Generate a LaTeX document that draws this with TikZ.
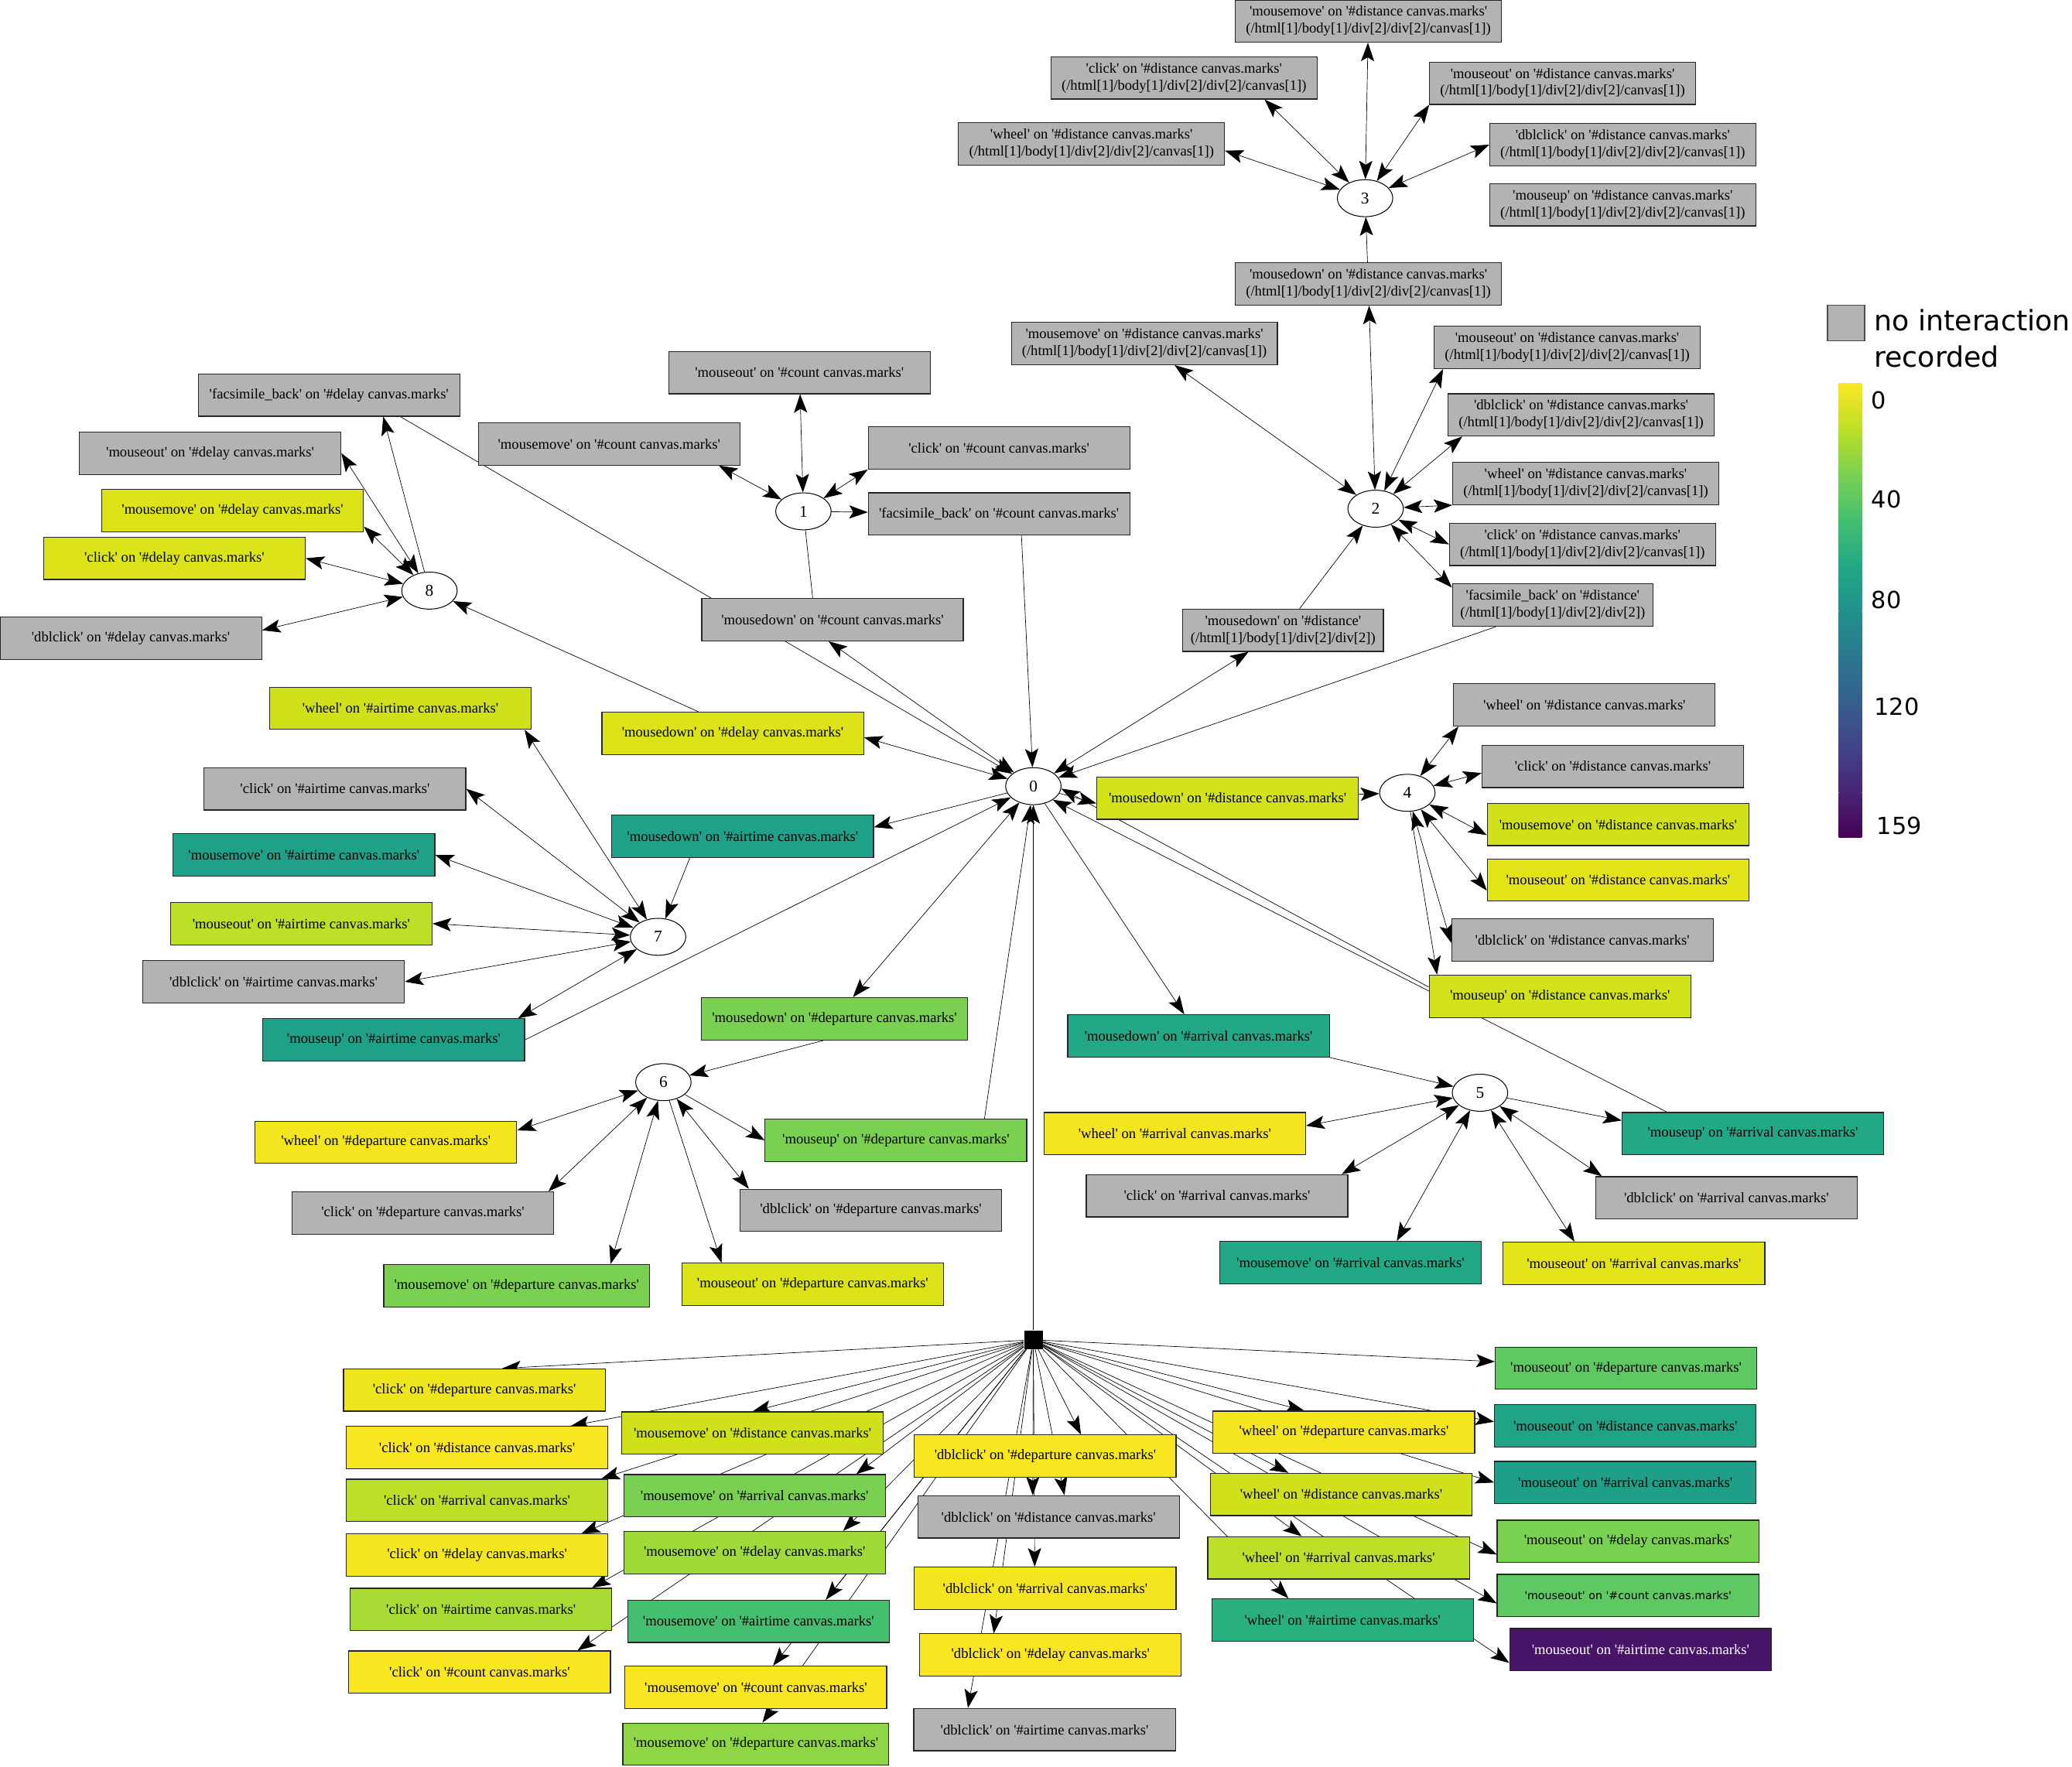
\documentclass[tikz,border=0pt]{standalone}
\usepackage{fontspec}
\newfontfamily\gvfont{Liberation Serif}
\newfontfamily\gvsans{DejaVu Sans}
\usetikzlibrary{arrows.meta,shapes.geometric,backgrounds}

\definecolor{gvgray}{HTML}{B3B3B3}
\definecolor{cYa}{HTML}{F8E621}
\definecolor{cYb}{HTML}{F4E61E}
\definecolor{cYc}{HTML}{EFE51C}
\definecolor{cYd}{HTML}{E2E418}
\definecolor{cYe}{HTML}{DCE319}
\definecolor{cYf}{HTML}{D2E21B}
\definecolor{cYg}{HTML}{D0E11C}
\definecolor{cYh}{HTML}{BCDF27}
\definecolor{cGa}{HTML}{A8DB34}
\definecolor{cGb}{HTML}{A0DA39}
\definecolor{cGc}{HTML}{8ED645}
\definecolor{cGd}{HTML}{7AD151}
\definecolor{cGe}{HTML}{5EC962}
\definecolor{cGf}{HTML}{44BF70}
\definecolor{cTa}{HTML}{2AB07F}
\definecolor{cTb}{HTML}{22A884}
\definecolor{cTc}{HTML}{20A486}
\definecolor{cTd}{HTML}{1FA088}
\definecolor{cTe}{HTML}{1F9E89}
\definecolor{cPa}{HTML}{481467}
% viridis stops for the colour bar
\definecolor{vir0}{HTML}{440154}
\definecolor{vir1}{HTML}{482475}
\definecolor{vir2}{HTML}{414487}
\definecolor{vir3}{HTML}{355F8D}
\definecolor{vir4}{HTML}{2A788E}
\definecolor{vir5}{HTML}{21918C}
\definecolor{vir6}{HTML}{22A884}
\definecolor{vir7}{HTML}{44BF70}
\definecolor{vir8}{HTML}{7AD151}
\definecolor{vir9}{HTML}{BDDF26}
\definecolor{vir10}{HTML}{FDE725}

\newcommand{\canvaspath}{(/html[1]/body[1]/div[2]/div[2]/canvas[1])}

\tikzstyle{event} = [rectangle, draw=black!85, line width=0.7pt, fill=gvgray,
    minimum width=198pt, minimum height=32pt, inner xsep=8pt, inner ysep=2pt,
    align=center, font=\gvfont\fontsize{10.9}{12.8}\selectfont]
\tikzstyle{shortevent} = [event, minimum width=0pt, inner xsep=6pt]
\tikzstyle{statenode} = [ellipse, draw, fill=white, line width=0.6pt,
    minimum width=42pt, minimum height=28pt, inner sep=0pt,
    font=\gvfont\fontsize{12.5}{14}\selectfont]
\tikzstyle{startnode} = [rectangle, fill=black, minimum size=14pt, inner sep=0pt]
\tikzstyle{legendtext} = [inner sep=0pt, align=left,
    font=\gvsans\fontsize{21.3}{27.5}\selectfont]
\tikzstyle{ticklabel} = [inner sep=0pt, anchor=west,
    font=\gvsans\fontsize{17.8}{20}\selectfont]

\begin{document}
\begin{tikzpicture}[x=1pt,y=-1pt,->,>={Stealth[length=14pt,width=10pt,inset=3pt]},
                    line width=0.6pt]
  \useasboundingbox (0,0) rectangle (1568,1337);

  % states
  \node[statenode] (n0) at (782,595)  {0};
  \node[statenode] (n1) at (608,387)  {1};
  \node[statenode] (n2) at (1041,385) {2};
  \node[statenode] (n3) at (1033,150) {3};
  \node[statenode] (n4) at (1065,600) {4};
  \node[statenode] (n5) at (1120,827) {5};
  \node[statenode] (n6) at (502,819)  {6};
  \node[statenode] (n7) at (498,709)  {7};
  \node[statenode] (n8) at (325,447)  {8};
  \node[startnode] (start) at (782,1014) {};

  % around 3
  \node[event] (d3mm)    at (1035.5,16)  {'mousemove' on '\#distance canvas.marks'\\\canvaspath};
  \node[event] (d3click) at (896,59)     {'click' on '\#distance canvas.marks'\\\canvaspath};
  \node[event] (d3wheel) at (826,109)    {'wheel' on '\#distance canvas.marks'\\\canvaspath};
  \node[event] (d3mout)  at (1182.5,63)  {'mouseout' on '\#distance canvas.marks'\\\canvaspath};
  \node[event] (d3dbl)   at (1228,109.5) {'dblclick' on '\#distance canvas.marks'\\\canvaspath};
  \node[event] (d3mup)   at (1228,155)   {'mouseup' on '\#distance canvas.marks'\\\canvaspath};
  \node[event] (d2mdown) at (1035.5,215) {'mousedown' on '\#distance canvas.marks'\\\canvaspath};

  % around 2
  \node[event] (d2mm)    at (866,260)    {'mousemove' on '\#distance canvas.marks'\\\canvaspath};
  \node[event] (d2mout)  at (1186,263)   {'mouseout' on '\#distance canvas.marks'\\\canvaspath};
  \node[event] (d2dbl)   at (1196.5,314) {'dblclick' on '\#distance canvas.marks'\\\canvaspath};
  \node[event] (d2wheel) at (1200,366)   {'wheel' on '\#distance canvas.marks'\\\canvaspath};
  \node[event] (d2click) at (1197.5,412) {'click' on '\#distance canvas.marks'\\\canvaspath};
  \node[shortevent] (d2fb)    at (1175,458) {'facsimile\_back' on '\#distance'\\(/html[1]/body[1]/div[2]/div[2])};
  \node[shortevent] (d0mdist) at (971,477)  {'mousedown' on '\#distance'\\(/html[1]/body[1]/div[2]/div[2])};

  % around 1
  \node[event] (c1mout)  at (605,282) {'mouseout' on '\#count canvas.marks'};
  \node[event] (c1mm)    at (461,336) {'mousemove' on '\#count canvas.marks'};
  \node[event] (c1click) at (756,339) {'click' on '\#count canvas.marks'};
  \node[event] (c1fb)    at (756,389) {'facsimile\_back' on '\#count canvas.marks'};
  \node[event] (c0mdown) at (630,469) {'mousedown' on '\#count canvas.marks'};

  % around 8
  \node[event] (l8fb)    at (249,299)   {'facsimile\_back' on '\#delay canvas.marks'};
  \node[event] (l8mout)  at (159,343)   {'mouseout' on '\#delay canvas.marks'};
  \node[event, fill=cYe] (l8mm)    at (176,386.5) {'mousemove' on '\#delay canvas.marks'};
  \node[event, fill=cYe] (l8click) at (132,422.5) {'click' on '\#delay canvas.marks'};
  \node[event] (l8dbl)   at (99,483)    {'dblclick' on '\#delay canvas.marks'};
  \node[event, fill=cYe] (l0mdown) at (554.5,555) {'mousedown' on '\#delay canvas.marks'};

  % around 7
  \node[event, fill=cYg] (a7wheel) at (303,536)   {'wheel' on '\#airtime canvas.marks'};
  \node[event]           (a7click) at (253.5,597) {'click' on '\#airtime canvas.marks'};
  \node[event, fill=cTd] (a7mm)    at (230,647)   {'mousemove' on '\#airtime canvas.marks'};
  \node[event, fill=cYh] (a7mout)  at (228,699)   {'mouseout' on '\#airtime canvas.marks'};
  \node[event]           (a7dbl)   at (207,743)   {'dblclick' on '\#airtime canvas.marks'};
  \node[event, fill=cTd] (a7mup)   at (298,787)   {'mouseup' on '\#airtime canvas.marks'};
  \node[event, fill=cTd] (a0mdown) at (562,633)   {'mousedown' on '\#airtime canvas.marks'};

  % around 6
  \node[event, fill=cGd] (p0mdown) at (631.5,771) {'mousedown' on '\#departure canvas.marks'};
  \node[event, fill=cGd] (p6mup)   at (678,863)   {'mouseup' on '\#departure canvas.marks'};
  \node[event, fill=cYb] (p6wheel) at (292,864.5) {'wheel' on '\#departure canvas.marks'};
  \node[event]           (p6click) at (320,918)   {'click' on '\#departure canvas.marks'};
  \node[event]           (p6dbl)   at (659,916)   {'dblclick' on '\#departure canvas.marks'};
  \node[event, fill=cGd] (p6mm)    at (391,973)   {'mousemove' on '\#departure canvas.marks'};
  \node[event, fill=cYe] (p6mout)  at (615,972)   {'mouseout' on '\#departure canvas.marks'};

  % around 4
  \node[event, fill=cYf] (d0mdown) at (929,604)    {'mousedown' on '\#distance canvas.marks'};
  \node[event]           (d4wheel) at (1199,533.5) {'wheel' on '\#distance canvas.marks'};
  \node[event]           (d4click) at (1220.5,580) {'click' on '\#distance canvas.marks'};
  \node[event, fill=cYg] (d4mm)    at (1224.5,624) {'mousemove' on '\#distance canvas.marks'};
  \node[event, fill=cYd] (d4mout)  at (1224.5,666) {'mouseout' on '\#distance canvas.marks'};
  \node[event]           (d4dbl)   at (1197.5,711.5) {'dblclick' on '\#distance canvas.marks'};
  \node[event, fill=cYf] (d4mup)   at (1180.5,754) {'mouseup' on '\#distance canvas.marks'};

  % around 5
  \node[event, fill=cTb] (r0mdown) at (907,784)    {'mousedown' on '\#arrival canvas.marks'};
  \node[event, fill=cYb] (r5wheel) at (889,858)    {'wheel' on '\#arrival canvas.marks'};
  \node[event]           (r5click) at (921,905)    {'click' on '\#arrival canvas.marks'};
  \node[event, fill=cTb] (r5mup)   at (1326.5,858) {'mouseup' on '\#arrival canvas.marks'};
  \node[event]           (r5dbl)   at (1306.5,906.5) {'dblclick' on '\#arrival canvas.marks'};
  \node[event, fill=cTb] (r5mm)    at (1022,955.5) {'mousemove' on '\#arrival canvas.marks'};
  \node[event, fill=cYd] (r5mout)  at (1236.5,956) {'mouseout' on '\#arrival canvas.marks'};

  % first events, from the start
  \node[event, fill=cYc] (sclickdep)  at (359,1052)   {'click' on '\#departure canvas.marks'};
  \node[event, fill=cYa] (sclickdist) at (361,1095.5) {'click' on '\#distance canvas.marks'};
  \node[event, fill=cYh] (sclickarr)  at (361,1135.5) {'click' on '\#arrival canvas.marks'};
  \node[event, fill=cYb] (sclickdel)  at (361,1177)   {'click' on '\#delay canvas.marks'};
  \node[event, fill=cGa] (sclickair)  at (364,1218)   {'click' on '\#airtime canvas.marks'};
  \node[event, fill=cYa] (sclickcnt)  at (363,1265.5) {'click' on '\#count canvas.marks'};

  \node[event, fill=cYg] (smmdist) at (569.5,1084.5) {'mousemove' on '\#distance canvas.marks'};
  \node[event, fill=cGd] (smmarr)  at (571,1132)     {'mousemove' on '\#arrival canvas.marks'};
  \node[event, fill=cGb] (smmdel)  at (571,1175)     {'mousemove' on '\#delay canvas.marks'};
  \node[event, fill=cGf] (smmair)  at (574,1227)     {'mousemove' on '\#airtime canvas.marks'};
  \node[event, fill=cYa] (smmcnt)  at (572,1277)     {'mousemove' on '\#count canvas.marks'};
  \node[event, fill=cGc] (smmdep)  at (572,1320)     {'mousemove' on '\#departure canvas.marks'};

  \node[event, fill=cYa] (sdbldep)  at (791,1102)   {'dblclick' on '\#departure canvas.marks'};
  \node[event]           (sdbldist) at (793.5,1148) {'dblclick' on '\#distance canvas.marks'};
  \node[event, fill=cYb] (sdblarr)  at (791,1202)   {'dblclick' on '\#arrival canvas.marks'};
  \node[event, fill=cYa] (sdbldel)  at (795,1252.5) {'dblclick' on '\#delay canvas.marks'};
  \node[event]           (sdblair)  at (790.5,1309) {'dblclick' on '\#airtime canvas.marks'};

  \node[event, fill=cYb] (swhdep)  at (1017,1084) {'wheel' on '\#departure canvas.marks'};
  \node[event, fill=cYg] (swhdist) at (1015,1131) {'wheel' on '\#distance canvas.marks'};
  \node[event, fill=cYh] (swharr)  at (1013,1179) {'wheel' on '\#arrival canvas.marks'};
  \node[event, fill=cTa] (swhair)  at (1016,1226) {'wheel' on '\#airtime canvas.marks'};

  \node[event, fill=cGe] (smodep)  at (1230.5,1035.5) {'mouseout' on '\#departure canvas.marks'};
  \node[event, fill=cTc] (smodist) at (1230,1079)     {'mouseout' on '\#distance canvas.marks'};
  \node[event, fill=cTe] (smoarr)  at (1230,1122)     {'mouseout' on '\#arrival canvas.marks'};
  \node[event, fill=cGd] (smodel)  at (1232,1166.5)   {'mouseout' on '\#delay canvas.marks'};
  \node[event, fill=cGe, font=\gvsans\fontsize{8.3}{10}\selectfont]
                         (smocnt)  at (1232,1207.5)   {'mouseout' on '\#count canvas.marks'};
  \node[event, fill=cPa, text=white] (smoair) at (1241.5,1248.5) {'mouseout' on '\#airtime canvas.marks'};

  % legend
  \draw[-, fill=gvgray, draw=black!70, line width=0.8pt] (1383,231) rectangle (1411,258);
  \node[legendtext, anchor=base west] (legnote) at (1418,278) {no interaction\\recorded};
  \shade[-, top color=vir10, bottom color=vir9] (1391.5,290)   rectangle (1409,324.9);
  \shade[-, top color=vir9,  bottom color=vir8] (1391.5,324.4) rectangle (1409,359.3);
  \shade[-, top color=vir8,  bottom color=vir7] (1391.5,358.8) rectangle (1409,393.7);
  \shade[-, top color=vir7,  bottom color=vir6] (1391.5,393.2) rectangle (1409,428.1);
  \shade[-, top color=vir6,  bottom color=vir5] (1391.5,427.6) rectangle (1409,462.5);
  \shade[-, top color=vir5,  bottom color=vir4] (1391.5,462)   rectangle (1409,496.9);
  \shade[-, top color=vir4,  bottom color=vir3] (1391.5,496.4) rectangle (1409,531.3);
  \shade[-, top color=vir3,  bottom color=vir2] (1391.5,530.8) rectangle (1409,565.7);
  \shade[-, top color=vir2,  bottom color=vir1] (1391.5,565.2) rectangle (1409,600.1);
  \shade[-, top color=vir1,  bottom color=vir0] (1391.5,599.6) rectangle (1409,634);
  \node[ticklabel] (tick0)   at (1416,302.7) {0};
  \node[ticklabel] (tick40)  at (1416,378)   {40};
  \node[ticklabel] (tick80)  at (1416,454)   {80};
  \node[ticklabel] (tick120) at (1418,535)   {120};
  \node[ticklabel] (tick159) at (1420,624.7) {159};

  \begin{scope}[on background layer]
  \fill[-, white] (0,0) rectangle (1568,1337);
  % state 3
  \path (n3) edge[<->] (d3mm)
             edge[<->] ([xshift=61pt]d3click.south)
             edge[<->] ([yshift=-5pt]d3wheel.east)
             edge[<->] (d3mout.south west)
             edge[<->] (d3dbl.west);
  \path (d2mdown) edge (n3);
  % state 2
  \path (n2) edge[<->] (d2mdown)
             edge[<->] (d2mm)
             edge[<->] ([xshift=7pt]d2mout.south west)
             edge[<->] ([xshift=11pt]d2dbl.south west)
             edge[<->] (d2wheel.south west)
             edge[<->] (d2click.west)
             edge[<->] ([yshift=-3pt]d2fb.north west);
  \path (d0mdist) edge (n2);
  % state 8
  \path (n8) edge ([xshift=41pt]l8fb.south)
             edge[<->] (l8mout.east)
             edge[<->] ([yshift=-12pt]l8mm.east)
             edge[<->] (l8click.east)
             edge[<->] ([yshift=6pt]l8dbl.east);
  \path ([xshift=-26pt]l0mdown.north) edge (n8);
  % state 1
  \path (n1) edge[<->] (c1mout)
             edge[<->] ([xshift=83pt]c1mm.south)
             edge[<->] (c1click.south west)
             edge (c1fb)
             edge[-] ([xshift=-15pt]c0mdown.north);
  % state 7
  \path (n7) edge[<->] ([xshift=94pt]a7wheel.south)
             edge[<->] (a7click.east)
             edge[<->] (a7mm.east)
             edge[<->] (a7mout.east)
             edge[<->] (a7dbl.east)
             edge[<->] ([xshift=94pt]a7mup.north);
  \path ([xshift=-40pt]a0mdown.south) edge (n7);
  % state 6
  \path ([xshift=-8pt]p0mdown.south) edge (n6);
  \path (n6) edge (p6mup.west)
             edge[<->] ([yshift=9pt]p6wheel.east)
             edge[<->] ([xshift=95pt]p6click.north)
             edge[<->] ([xshift=71pt]p6mm.north)
             edge ([xshift=-69pt]p6mout.north)
             edge[<->] ([xshift=7pt]p6dbl.north west);
  % state 4
  \path (d0mdown) edge (n4);
  \path (n4) edge[<->] ([xshift=4pt]d4wheel.south west)
             edge[<->] ([yshift=-5pt]d4click.west)
             edge[<->] ([yshift=-8pt]d4mm.west)
             edge[<->] ([yshift=-8pt]d4mout.west)
             edge[<->] ([yshift=-2pt]d4dbl.west)
             edge ([xshift=-93pt]d4mup.north);
  % state 5
  \path (r0mdown.south east) edge (n5);
  \path (n5) edge[<->] ([yshift=6pt]r5wheel.east)
             edge[<->] ([xshift=-5pt]r5click.north east)
             edge ([yshift=10pt]r5mup.west)
             edge[<->] ([xshift=5pt]r5dbl.north west)
             edge[<->] ([xshift=35pt]r5mm.north)
             edge[<->] ([xshift=-45pt]r5mout.north);
  % state 0
  \path (n0) edge[<->] (d0mdist)
             edge ([yshift=-4pt]d0mdown.west)
             edge (r0mdown)
             edge[<->] ([yshift=-3pt]l0mdown.east)
             edge[<->] ([xshift=-3pt]c0mdown.south)
             edge ([yshift=7pt]a0mdown.east)
             edge[<->] (p0mdown);
  \path ([xshift=-43pt]d2fb.south) edge (n0);
  \path ([yshift=7pt]d4mup.west) edge (n0.-5);
  \path ([xshift=-65pt]r5mup.north) edge (n0.-35);
  \path ([xshift=54pt]l8fb.south) edge (n0);
  \path ([xshift=17pt]c1fb.south) edge (n0);
  \path ([xshift=67pt]p6mup.north) edge (n0);
  \path (a7mup.east) edge (n0);
  % start
  \path (start) edge (n0)
                edge ([xshift=21pt]sclickdep.north)
                edge ([xshift=71pt]sclickdist.north)
                edge ([xshift=94pt]sclickarr.north)
                edge ([xshift=79pt]sclickdel.north)
                edge ([xshift=84pt]sclickair.north)
                edge ([xshift=74pt]sclickcnt.north)
                edge (smmdist.north)
                edge ([xshift=77pt]smmarr.north)
                edge ([xshift=67pt]smmdel.north)
                edge ([xshift=51pt]smmair.north)
                edge ([xshift=13pt]smmcnt.north)
                edge ([xshift=5pt]smmdep.north)
                edge ([xshift=27pt]sdbldep.north)
                edge ([xshift=-12pt]sdbldist.north)
                edge ([xshift=12pt]sdbldist.north)
                edge ([xshift=-8pt]sdblarr.north)
                edge ([xshift=-43pt]sdbldel.north)
                edge ([xshift=-58pt]sdblair.north)
                edge ([xshift=-30pt]swhdep.north)
                edge ([xshift=-40pt]swhdist.north)
                edge ([xshift=-28pt]swharr.north)
                edge ([xshift=-41pt]swhair.north)
                edge ([yshift=5pt]smodep.west)
                edge ([yshift=3pt]smodist.west)
                edge (smoarr.west)
                edge ([yshift=-10pt]smodel.west)
                edge ([yshift=-6pt]smocnt.west)
                edge ([yshift=-10pt]smoair.west);
  \end{scope}
\end{tikzpicture}
\end{document}
